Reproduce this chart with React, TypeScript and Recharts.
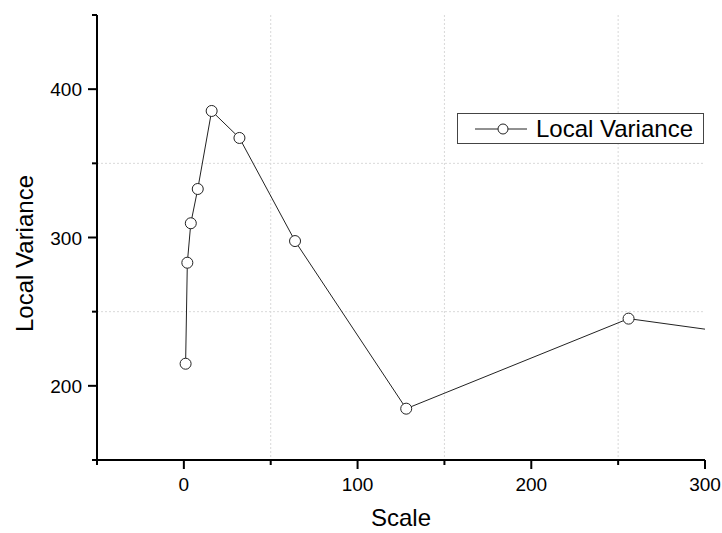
import React from 'react';
import { LineChart, Line, XAxis, YAxis, CartesianGrid, Legend } from 'recharts';

const scales = [1, 2, 4, 8, 16, 32, 64, 128, 256, 512];
const variances = [214.9, 283, 309.6, 332.7, 385.3, 367.1, 297.6, 184.6, 245.3, 204];
const xTicks = [-50, 0, 50, 100, 150, 200, 250, 300];
const yTicks = [150, 200, 250, 300, 350, 400, 450];
const xGrid = [50, 150, 250];
const yGrid = [250, 350];
const seriesName = 'Local Variance';
const xTitle = 'Scale';
const yTitle = 'Local Variance';

const data = scales.map((s, i) => ({ scale: s, value: variances[i] }));

const FONT = '"Liberation Sans", Arial, Helvetica, sans-serif';

const XTick = (props: any) => {
  const { x, y, payload } = props;
  const major = payload.value % 100 === 0;
  return (
    <g>
      <line x1={x} y1={y} x2={x} y2={y + (major ? 9 : 5)} stroke="#000" strokeWidth={2} />
      {major && (
        <text x={x} y={y + 31} textAnchor="middle" fontSize={19} fontFamily={FONT} fill="#000">
          {payload.value}
        </text>
      )}
    </g>
  );
};

const YTick = (props: any) => {
  const { x, y, payload } = props;
  const major = payload.value % 100 === 0;
  return (
    <g>
      <line x1={x} y1={y} x2={x - (major ? 9 : 5)} y2={y} stroke="#000" strokeWidth={2} />
      {major && (
        <text x={x - 15} y={y + 7} textAnchor="end" fontSize={19} fontFamily={FONT} fill="#000">
          {payload.value}
        </text>
      )}
    </g>
  );
};

const XTitle = (props: any) => {
  const vb = props.viewBox;
  return (
    <text x={vb.x + vb.width / 2} y={vb.y + 66} textAnchor="middle" fontSize={24} fontFamily={FONT} fill="#000">
      {xTitle}
    </text>
  );
};

const YTitleC = (props: any) => {
  const vb = props.viewBox;
  const cx = vb.x + 33;
  const cy = vb.y + vb.height / 2 + 16;
  return (
    <text x={cx} y={cy} transform={`rotate(-90 ${cx} ${cy})`} textAnchor="middle" fontSize={24} fontFamily={FONT} fill="#000">
      {yTitle}
    </text>
  );
};

const LegendContent = () => (
  <div
    style={{
      boxSizing: 'border-box',
      width: 247,
      height: 31,
      border: '1px solid #444',
      display: 'flex',
      alignItems: 'center',
      paddingLeft: 17,
      fontFamily: FONT,
      background: '#fff',
    }}
  >
    <svg width={52} height={29} style={{ display: 'block' }}>
      <line x1={0} y1={15} x2={52} y2={15} stroke="#222" strokeWidth={1} />
      <circle cx={28} cy={15} r={5} fill="#fff" stroke="#222" strokeWidth={1} />
    </svg>
    <span style={{ fontSize: 24, marginLeft: 9, color: '#000', lineHeight: '29px' }}>{seriesName}</span>
  </div>
);

export default function App() {
  return (
    <div style={{ position: 'absolute', left: 0, top: 0, width: 722, height: 533, background: '#fff' }}>
      <LineChart width={722} height={533} data={data} margin={{ top: 15, right: 17, left: 0, bottom: 0 }}>
        <CartesianGrid
          stroke="#d9d9d9"
          strokeDasharray="2 2"
          verticalValues={xGrid}
          horizontalValues={yGrid}
        />
        <XAxis
          dataKey="scale"
          type="number"
          domain={[-50, 300]}
          allowDataOverflow
          ticks={xTicks}
          interval={0}
          tickSize={0}
          tickMargin={0}
          tickLine={false}
          tick={<XTick />}
          axisLine={{ stroke: '#000', strokeWidth: 2 }}
          height={73}
          label={XTitle}
        />
        <YAxis
          type="number"
          domain={[150, 450]}
          allowDataOverflow
          ticks={yTicks}
          interval={0}
          tickSize={0}
          tickMargin={0}
          tickLine={false}
          tick={<YTick />}
          axisLine={{ stroke: '#000', strokeWidth: 2 }}
          width={97}
          label={YTitleC}
        />
        <Legend
          layout="vertical"
          align="center"
          verticalAlign="middle"
          content={LegendContent}
          wrapperStyle={{ left: 457, top: 113, width: 247, height: 31 }}
        />
        <Line
          type="linear"
          dataKey="value"
          name={seriesName}
          stroke="#222"
          strokeWidth={1}
          dot={{ r: 5.5, fill: '#fff', stroke: '#222', strokeWidth: 1 }}
          activeDot={false}
          isAnimationActive={false}
        />
      </LineChart>
    </div>
  );
}
